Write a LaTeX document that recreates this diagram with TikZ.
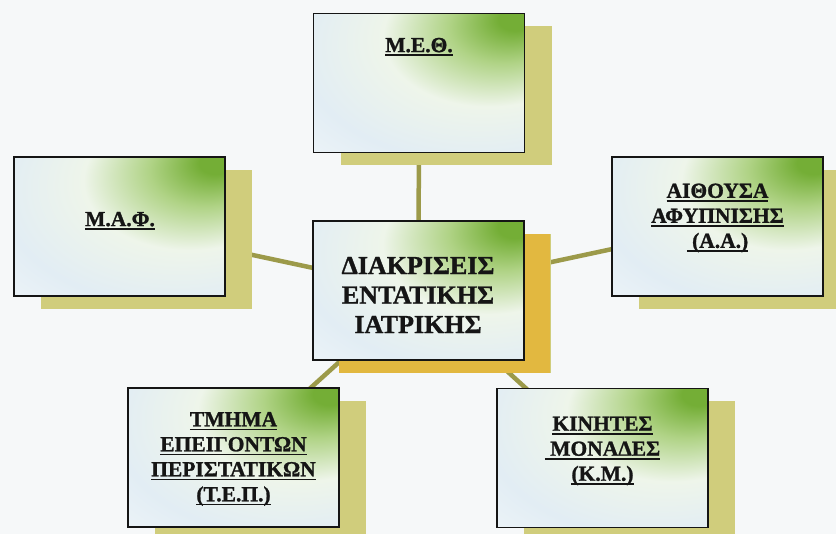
\documentclass[tikz,border=0pt]{standalone}
\usepackage{fontspec}
\setmainfont{Liberation Serif}[BoldFont={Liberation Serif Bold}, BoldFeatures={FakeBold=1.2}]
\usetikzlibrary{shadows}
\definecolor{bgc}{HTML}{F6F8F9}
\definecolor{grn}{HTML}{74AE36}
\definecolor{lgrn}{HTML}{B0D386}
\definecolor{vlgrn}{HTML}{EEF5EA}
\definecolor{lblue}{HTML}{E2EDF4}
\definecolor{khaki}{HTML}{D0CD7C}
\definecolor{gold}{HTML}{E2B840}
\definecolor{olive}{HTML}{9C9A4A}
\definecolor{ink}{HTML}{151515}
\pgfdeclareradialshading{greencorner}{\pgfpoint{24bp}{24bp}}{color(0bp)=(grn); color(4bp)=(grn); color(13bp)=(lgrn); color(25bp)=(vlgrn); color(40bp)=(lblue); color(58bp)=(white!65!lblue); color(80bp)=(white!65!lblue)}
\pgfdeclarelayer{bglayer}
\pgfdeclarelayer{linelayer}
\pgfsetlayers{bglayer,linelayer,main}
\newcommand\ulx[1]{\setbox0\hbox{#1}\leavevmode\rlap{\rule[-4pt]{\wd0}{1.8pt}}\box0}
\tikzset{
  boxnode/.style={draw=ink, line width=1.5pt, shade, shading=greencorner,
    minimum width=211pt, minimum height=139pt, inner sep=0pt,
    general shadow={fill=khaki, shadow xshift=27pt, shadow yshift=-13pt}},
  centerbox/.style={boxnode, general shadow={fill=gold, shadow xshift=26pt, shadow yshift=-13pt}},
  txt/.style={align=center, text=ink, inner sep=0pt},
  outerfont/.style={font=\bfseries\fontsize{21.5}{25}\selectfont},
  conn/.style={draw=olive, line width=4.5pt}
}
\begin{document}
\begin{tikzpicture}[x=1pt,y=-1pt]
\useasboundingbox (0,0) rectangle (836,534);
\begin{pgfonlayer}{bglayer}
\fill[bgc] (0,0) rectangle (836,534);
\end{pgfonlayer}
\begin{scope}
\clip (0,0) rectangle (836,534);
\node[boxnode] (meo) at (419,83) {};
\node[boxnode] (maf) at (119.5,226.5) {};
\node[centerbox] (ctr) at (418.5,290.5) {};
\node[boxnode] (aa) at (717.5,226.5) {};
\node[boxnode] (tep) at (233.5,457.5) {};
\node[boxnode] (km) at (602.5,458) {};
\end{scope}
\node[txt, outerfont] (meoT) at (419,47) {\ulx{Μ.Ε.Θ.}};
\node[txt, outerfont] (mafT) at (120,221) {\ulx{Μ.Α.Φ.}};
\node[txt, font=\bfseries\fontsize{26}{29.5}\selectfont] (ctrT) at (418,295) {ΔΙΑΚΡΙΣΕΙΣ\\ΕΝΤΑΤΙΚΗΣ\\ΙΑΤΡΙΚΗΣ};
\node[txt, outerfont] (aaT) at (717.5,218) {\ulx{ΑΙΘΟΥΣΑ}\\\ulx{ΑΦΥΠΝΙΣΗΣ}\\\ulx{\ (Α.Α.)}};
\node[txt, outerfont] (tepT) at (233.5,459) {\ulx{ΤΜΗΜΑ}\\\ulx{ΕΠΕΙΓΟΝΤΩΝ}\\\ulx{ΠΕΡΙΣΤΑΤΙΚΩΝ}\\\ulx{(Τ.Ε.Π.)}};
\node[txt, outerfont] (kmT) at (602.5,451) {\ulx{ΚΙΝΗΤΕΣ}\\\ulx{\ ΜΟΝΑΔΕΣ}\\\ulx{(Κ.Μ.)}};
\begin{pgfonlayer}{linelayer}
\draw[conn] (ctr.center) -- (meo.center);
\draw[conn] (ctr.center) -- (maf.center);
\draw[conn] (ctr.center) -- (aa.center);
\draw[conn] (ctr.center) -- (tep.center);
\draw[conn] (ctr.center) -- (km.center);
\end{pgfonlayer}
\end{tikzpicture}
\end{document}
